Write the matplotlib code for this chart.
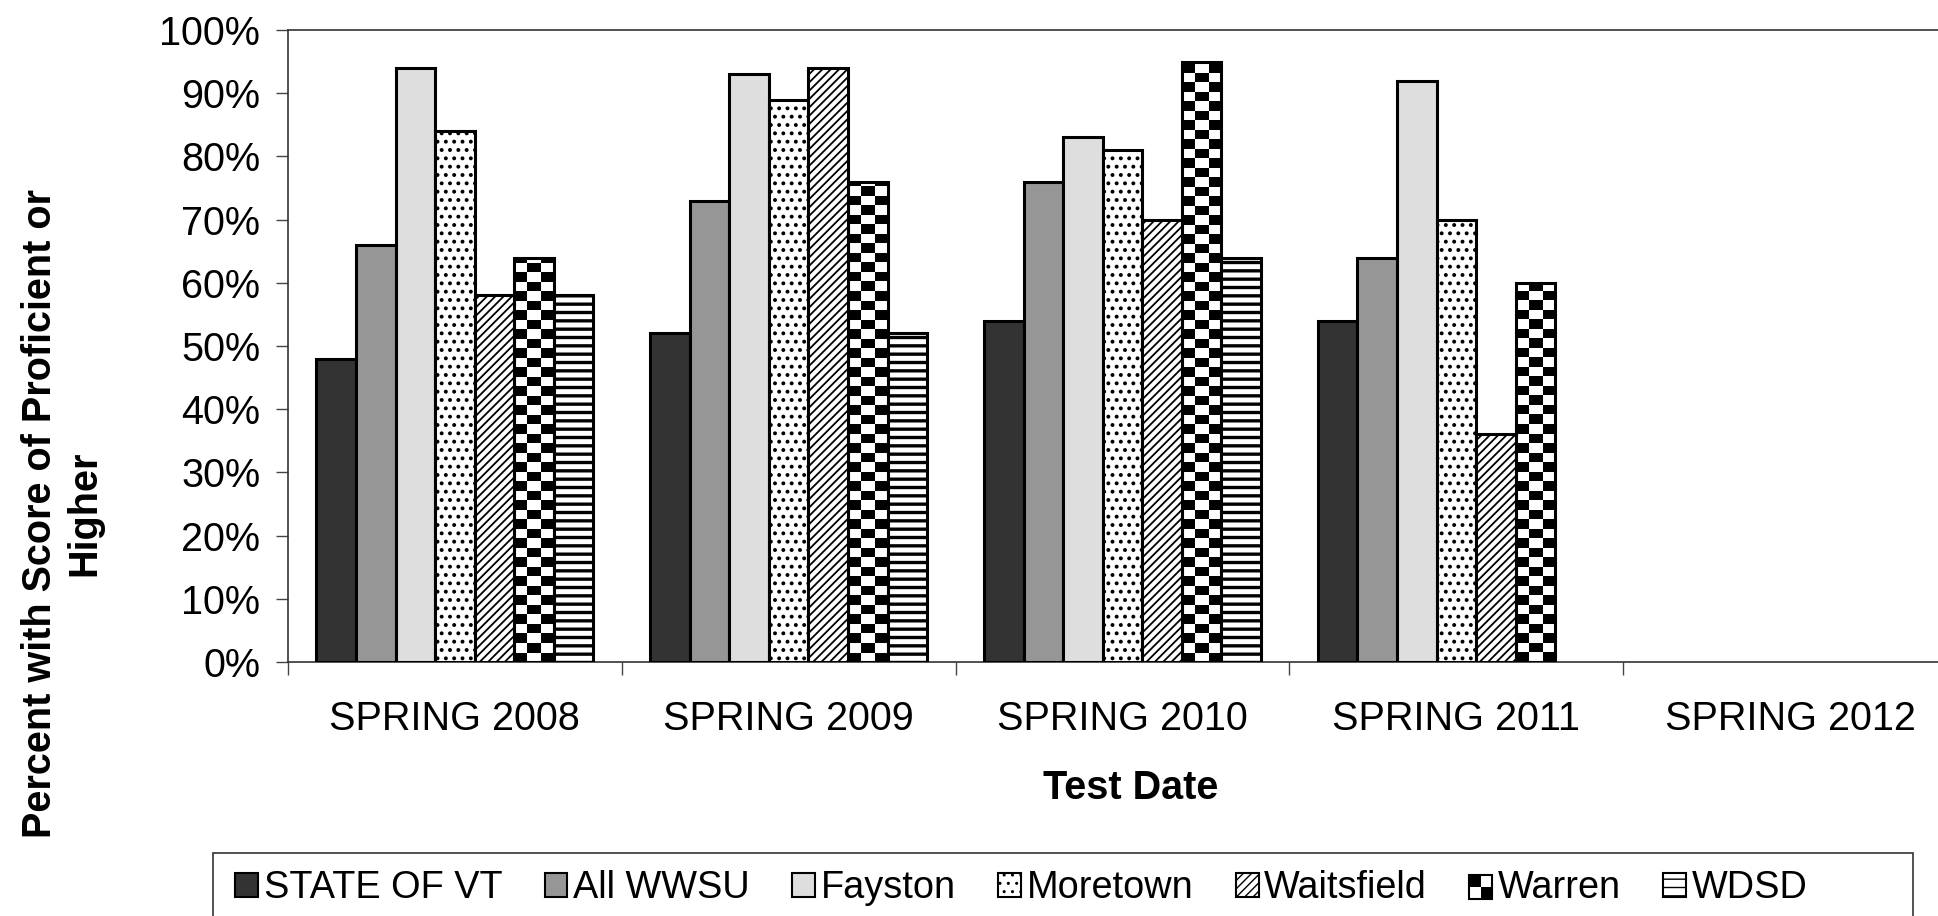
import numpy as np
import matplotlib.pyplot as plt
from matplotlib.patches import Patch, Rectangle
from matplotlib.legend_handler import HandlerBase

plt.rcParams['font.family'] = ['Liberation Sans', 'DejaVu Sans']

# data (percent)
dates = ['SPRING 2008', 'SPRING 2009', 'SPRING 2010', 'SPRING 2011', 'SPRING 2012']
state_vt = [48, 52, 54, 54, None]
all_wwsu = [66, 73, 76, 64, None]
fayston = [94, 93, 83, 92, None]
moretown = [84, 89, 81, 70, None]
waitsfield = [58, 94, 70, 36, None]
warren = [64, 76, 95, 60, None]
wdsd = [58, 52, 64, None, None]

names = ['STATE OF VT', 'All WWSU', 'Fayston', 'Moretown', 'Waitsfield', 'Warren', 'WDSD']
series = [state_vt, all_wwsu, fayston, moretown, waitsfield, warren, wdsd]

# (facecolor, hatch, hatch linewidth)
styles = [
    ('#333333', None, 1.0),
    ('#969696', None, 1.0),
    ('#dedede', None, 1.0),
    ('white', '..', 1.6),
    ('white', '////', 1.3),
    ('checker', None, 1.0),
    ('white', '--', 2.4),
]

W, H = 1938, 916
fig = plt.figure(figsize=(W / 100, H / 100), dpi=100)
ax = fig.add_axes([288 / W, 1 - 662 / H, (1957 - 288) / W, (662 - 30) / H])

x = np.arange(len(dates))
bw = 0.1186

for i, (vals, st) in enumerate(zip(series, styles)):
    xs = [xi + (i - 3) * bw for xi, v in zip(x, vals) if v is not None]
    ys = [v for v in vals if v is not None]
    fc, hatch, hlw = st
    plt.rcParams['hatch.linewidth'] = hlw
    if fc == 'checker':
        bars = ax.bar(xs, ys, width=bw, facecolor='white', edgecolor='black',
                      linewidth=2.2, zorder=3)
        for b in bars:
            bx = b.get_x()
            bh = b.get_height()
            nrows = max(1, int(round(bh * 6.32 / 9.5)))
            grid = (np.add.outer(np.arange(nrows), np.arange(3)) % 2).astype(float)
            im = ax.imshow(grid, cmap='gray', vmin=0, vmax=1, interpolation='nearest',
                           extent=(bx, bx + bw, 0, nrows * 9.5 / 6.32),
                           origin='lower', aspect='auto', zorder=2)
            im.set_clip_path(b)
            b.set_facecolor('none')
    else:
        ax.bar(xs, ys, width=bw, facecolor=fc, edgecolor='black', hatch=hatch,
               linewidth=2.2, zorder=3)

ax.set_xlim(-0.5, 4.5)
ax.set_ylim(0, 100)
ax.set_yticks(np.arange(0, 101, 10))
ax.set_yticklabels([f'{v}%' for v in range(0, 101, 10)])
ax.set_xticks(x)
ax.set_xticklabels(dates)
ax.set_xticks(np.arange(-0.5, 4.6, 1), minor=True)
ax.tick_params(axis='x', which='major', length=0, pad=27, labelsize=28.5)
ax.tick_params(axis='x', which='minor', length=9, width=1, color='#444444', direction='out')
ax.tick_params(axis='y', length=9, width=1, color='#444444', pad=11, labelsize=28.5)
for s in ['left', 'top', 'bottom']:
    ax.spines[s].set_color('#333333')
    ax.spines[s].set_linewidth(1.2)
ax.spines['right'].set_visible(False)

fig.text(1131 / W, 1 - 788 / H, 'Test Date', ha='center', va='center',
         fontsize=28.5, fontweight='bold')
fig.text(62 / W, 1 - 513 / H, 'Percent with Score of Proficient or\nHigher',
         rotation=90, ha='center', va='center', multialignment='center',
         fontsize=28.5, fontweight='bold', linespacing=1.2)


class CheckerHandler(HandlerBase):
    def create_artists(self, legend, orig_handle, xd, yd, w, h, fontsize, trans):
        out = [Rectangle((xd, yd), w, h, facecolor='white', edgecolor='black',
                         linewidth=1.5, transform=trans)]
        out.append(Rectangle((xd, yd + h / 2), w / 2, h / 2, facecolor='black',
                             edgecolor='none', transform=trans))
        out.append(Rectangle((xd + w / 2, yd), w / 2, h / 2, facecolor='black',
                             edgecolor='none', transform=trans))
        return out


handles = []
for fc, hatch, hlw in styles:
    if fc == 'checker':
        handles.append(Patch(facecolor='white', edgecolor='black'))
    else:
        plt.rcParams['hatch.linewidth'] = 1.0
        handles.append(Patch(facecolor=fc, edgecolor='black', hatch=hatch, linewidth=1.5))

leg = fig.legend(handles, names, loc='upper left', ncol=7,
                 bbox_to_anchor=(218 / W, 1 - 853 / H), fontsize=27.3,
                 frameon=False,
                 handlelength=0.6, handleheight=0.6, handletextpad=0.15,
                 columnspacing=1.12, borderpad=0.45, borderaxespad=0,
                 handler_map={handles[5]: CheckerHandler()})

# legend box as drawn in the original (wider than its entries, cut by the bottom edge)
fig.patches.append(Rectangle((213 / W, -0.05), (1913 - 213) / W, 0.05 + 1 - 853 / H,
                             transform=fig.transFigure, facecolor='none',
                             edgecolor='#333333', linewidth=1.2))

fig.savefig('out.png', dpi=100)
